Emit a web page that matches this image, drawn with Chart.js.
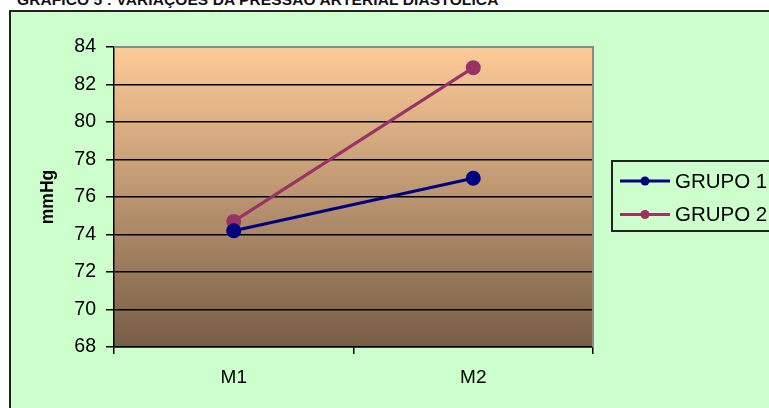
<!DOCTYPE html>
<html>
<head>
<meta charset="utf-8">
<script src="https://cdn.jsdelivr.net/npm/chart.js@4/dist/chart.umd.min.js"></script>
<style>
  html, body { margin: 0; padding: 0; background: #ffffff; overflow: hidden; }
  #page { position: relative; width: 769px; height: 408px; overflow: hidden; }
  #caption {
    position: absolute; left: 17px; top: -9px;
    font: bold 15.5px "Liberation Sans", Arial, sans-serif; color: #111;
    white-space: nowrap; letter-spacing: 0.1px;
  }
  #panel {
    position: absolute; left: 9px; top: 10px; width: 800px; height: 440px;
    background: #CCFFCC; border: 2px solid #222; box-sizing: border-box;
  }
  #wrap { position: absolute; left: 0; top: 0; width: 769px; height: 408px; }
</style>
</head>
<body>
<div id="page">
  <div id="caption">GRÁFICO 5 : VARIAÇÕES DA PRESSÃO ARTERIAL DIASTÓLICA</div>
  <div id="panel"></div>
  <div id="wrap"><canvas id="chart" width="769" height="408"></canvas></div>
</div>
<script>
// Moments of measurement
const categories = ['M1', 'M2'];
// Mean diastolic pressure (mmHg) per group
const grupo1 = [74.2, 77.0];
const grupo2 = [74.7, 82.9];
// Y axis range and tick step
const yMin = 68;
const yMax = 84;
const yStep = 2;

const FONT = '"Liberation Sans", Arial, sans-serif';

// Tan-to-brown gradient behind the plot, with a grey frame
const plotBackground = {
  id: 'plotBackground',
  beforeDraw(chart) {
    const { ctx, chartArea: a } = chart;
    const g = ctx.createLinearGradient(0, a.top, 0, a.bottom);
    g.addColorStop(0, '#FFCC99');
    g.addColorStop(1, '#765D46');
    ctx.save();
    ctx.fillStyle = g;
    ctx.fillRect(a.left, a.top, a.right - a.left, a.bottom - a.top);
    ctx.restore();
  },
  afterDatasetsDraw(chart) {
    const { ctx, chartArea: a } = chart;
    ctx.save();
    ctx.strokeStyle = '#8a8a8a';
    ctx.lineWidth = 2;
    ctx.beginPath();
    ctx.moveTo(a.left, a.top);
    ctx.lineTo(a.right, a.top);
    ctx.lineTo(a.right, a.bottom);
    ctx.stroke();
    ctx.restore();
  }
};

// Boxed legend to the right of the plot
const boxLegend = {
  id: 'boxLegend',
  afterDraw(chart) {
    const { ctx } = chart;
    const x0 = 612, y0 = 161, rowH = 33.5;
    ctx.save();
    ctx.strokeStyle = '#222';
    ctx.lineWidth = 2;
    ctx.strokeRect(x0, y0, 200, 70);
    chart.data.datasets.forEach((ds, i) => {
      const y = y0 + 20 + i * rowH;
      ctx.strokeStyle = ds.borderColor;
      ctx.lineWidth = 3;
      ctx.beginPath();
      ctx.moveTo(x0 + 8, y);
      ctx.lineTo(x0 + 58, y);
      ctx.stroke();
      ctx.fillStyle = ds.borderColor;
      ctx.beginPath();
      ctx.arc(x0 + 33, y, 4.5, 0, Math.PI * 2);
      ctx.fill();
      ctx.fillStyle = '#000';
      ctx.font = '20.5px ' + FONT;
      ctx.textBaseline = 'middle';
      ctx.textAlign = 'left';
      ctx.fillText(ds.label, x0 + 63, y + 1);
    });
    ctx.restore();
  }
};

new Chart(document.getElementById('chart'), {
  type: 'line',
  data: {
    labels: categories,
    datasets: [
      {
        label: 'GRUPO 1', data: grupo1,
        borderColor: '#000080', backgroundColor: '#000080',
        borderWidth: 3, pointRadius: 6, pointHoverRadius: 6, tension: 0
      },
      {
        label: 'GRUPO 2', data: grupo2,
        borderColor: '#993366', backgroundColor: '#993366',
        borderWidth: 3, pointRadius: 6, pointHoverRadius: 6, tension: 0
      }
    ]
  },
  options: {
    responsive: false,
    animation: false,
    events: [],
    layout: { padding: { top: 47, right: 176, bottom: 0, left: 0 } },
    plugins: { legend: { display: false }, tooltip: { enabled: false } },
    scales: {
      x: {
        offset: true,
        afterFit(s) { s.height = 61; },
        grid: {
          offset: true, drawOnChartArea: false, drawTicks: true,
          tickLength: 7, color: '#000', tickColor: '#000', lineWidth: 1.5
        },
        border: { color: '#000', width: 1.5 },
        ticks: { color: '#000', font: { size: 19, family: FONT }, padding: 12 }
      },
      y: {
        min: yMin, max: yMax,
        afterFit(s) { s.width = 114; },
        afterBuildTicks(s) {
          const t = [];
          for (let v = yMin; v <= yMax; v += yStep) t.push({ value: v });
          s.ticks = t;
        },
        grid: {
          color: c => (c.tick && c.tick.value === yMax) ? 'rgba(0,0,0,0)' : '#000',
          tickColor: '#000', lineWidth: 1.5, tickLength: 8
        },
        border: { color: '#000', width: 1.5 },
        ticks: { color: '#000', font: { size: 19.5, family: FONT }, padding: 10 },
        title: {
          display: true, text: 'mmHg', color: '#000',
          font: { size: 17.5, weight: 'bold', family: FONT },
          padding: { top: 38, bottom: 0 }
        }
      }
    }
  },
  plugins: [plotBackground, boxLegend]
});
</script>
</body>
</html>
